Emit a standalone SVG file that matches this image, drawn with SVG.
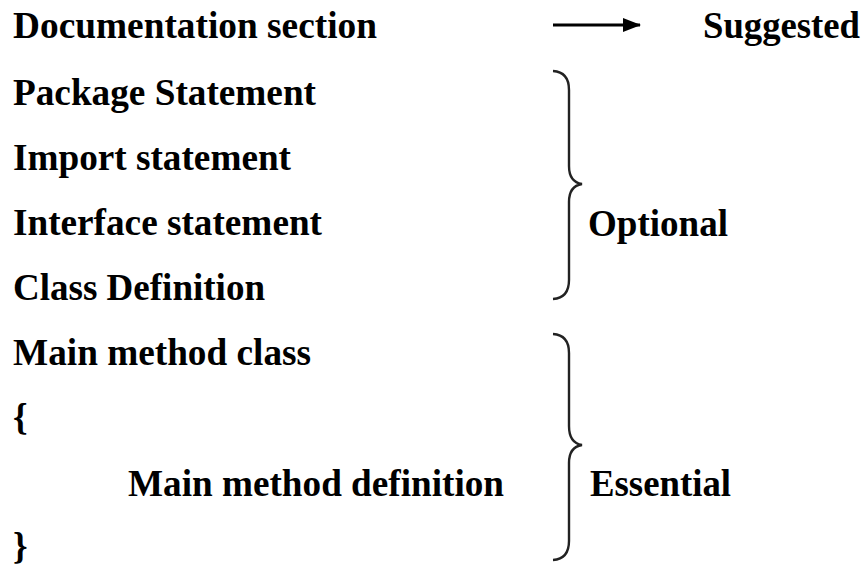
<svg xmlns="http://www.w3.org/2000/svg" width="867" height="570" viewBox="0 0 867 570">
  <style>
    .t { font-family: "Liberation Serif", "Times New Roman", serif; font-weight: bold; font-size: 37px; fill: #000; }
    .brace { fill: none; stroke: #222; stroke-width: 2.4; }
    .conn { fill: none; stroke: #000; stroke-width: 3; }
  </style>
  <defs>
    <marker id="arrowhead" markerWidth="18" markerHeight="14" refX="17" refY="7" orient="auto" markerUnits="userSpaceOnUse">
      <path d="M0,0 L18,7 L0,14 z" fill="#000"/>
    </marker>
  </defs>
  <rect width="867" height="570" fill="#fff"/>

  <g id="doc"><text class="t" x="13" y="38" textLength="364" lengthAdjust="spacingAndGlyphs">Documentation section</text></g>
  <g id="package"><text class="t" x="13" y="105" textLength="303" lengthAdjust="spacingAndGlyphs">Package Statement</text></g>
  <g id="import"><text class="t" x="13" y="170" textLength="278" lengthAdjust="spacingAndGlyphs">Import statement</text></g>
  <g id="interface"><text class="t" x="13" y="235" textLength="309" lengthAdjust="spacingAndGlyphs">Interface statement</text></g>
  <g id="classdef"><text class="t" x="13" y="300" textLength="252" lengthAdjust="spacingAndGlyphs">Class Definition</text></g>
  <g id="mainclass"><text class="t" x="13" y="365" textLength="298" lengthAdjust="spacingAndGlyphs">Main method class</text></g>
  <g id="open"><text class="t" x="13" y="430">{</text></g>
  <g id="maindef"><text class="t" x="128" y="496" textLength="376" lengthAdjust="spacingAndGlyphs">Main method definition</text></g>
  <g id="close"><text class="t" x="13" y="559">}</text></g>

  <g id="suggested"><text class="t" x="703" y="38" textLength="157" lengthAdjust="spacingAndGlyphs">Suggested</text></g>
  <g id="optional"><text class="t" x="588" y="236" textLength="140" lengthAdjust="spacingAndGlyphs">Optional</text></g>
  <g id="essential"><text class="t" x="590" y="496" textLength="141" lengthAdjust="spacingAndGlyphs">Essential</text></g>

  <g id="connectors">
    <line class="conn" x1="553" y1="25" x2="640" y2="25" marker-end="url(#arrowhead)"/>
    <path class="brace" d="M553,71 Q569,72 569,90 L569,166 Q569,182 582,184 Q569,186 569,202 L569,280 Q569,298 553,299"/>
    <path class="brace" d="M553,334 Q569,335 569,353 L569,426 Q569,443 582,445 Q569,447 569,463 L569,541 Q569,559 553,560"/>
  </g>
</svg>
